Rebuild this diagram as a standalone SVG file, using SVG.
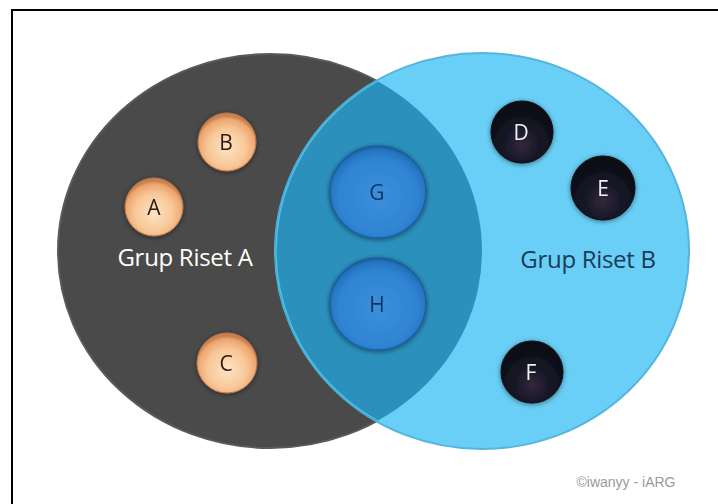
<svg xmlns="http://www.w3.org/2000/svg" width="718" height="504" viewBox="0 0 718 504">
<defs>
<radialGradient id="gOrange" cx="50%" cy="60%" r="55%">
<stop offset="0" stop-color="#FDE3C6"/>
<stop offset="0.6" stop-color="#F8C797"/>
<stop offset="0.9" stop-color="#EDA56F"/>
<stop offset="1" stop-color="#C98050"/>
</radialGradient>
<radialGradient id="gBlue" cx="50%" cy="55%" r="55%">
<stop offset="0" stop-color="#3A8FDB"/>
<stop offset="0.75" stop-color="#2F84D2"/>
<stop offset="0.92" stop-color="#2574C0"/>
<stop offset="1" stop-color="#1A5C9E"/>
</radialGradient>
<radialGradient id="gDark" cx="50%" cy="70%" r="55%">
<stop offset="0" stop-color="#33283C"/>
<stop offset="0.5" stop-color="#181828"/>
<stop offset="1" stop-color="#0C0E18"/>
</radialGradient>
<filter id="sh" x="-30%" y="-30%" width="160%" height="160%">
<feGaussianBlur in="SourceAlpha" stdDeviation="2.5"/>
<feOffset dx="0" dy="1" result="b"/>
<feFlood flood-color="#000" flood-opacity="0.5"/>
<feComposite in2="b" operator="in"/>
<feMerge><feMergeNode/><feMergeNode in="SourceGraphic"/></feMerge>
</filter>
<clipPath id="clipA"><ellipse cx="270" cy="251" rx="212" ry="197"/></clipPath>
<style>
.lbl{font-family:"Open Sans","Liberation Sans",sans-serif;font-size:24px;text-anchor:middle;letter-spacing:-0.3px}
.n{font-family:"Open Sans","Liberation Sans",sans-serif;font-size:21px;text-anchor:middle}
.orange{fill:url(#gOrange);stroke:#B87848;stroke-width:1}
.blue{fill:url(#gBlue);stroke:#1E5E9E;stroke-width:1.5}
.dark{fill:url(#gDark);stroke:#0A0A12;stroke-width:1}
</style>
</defs>
<rect x="0" y="0" width="718" height="504" fill="#fff"/>
<rect x="12" y="10" width="720" height="510" fill="none" stroke="#000" stroke-width="2"/>
<g id="setA">
<ellipse cx="270" cy="251" rx="212" ry="197" fill="#4A4A4A" stroke="#5A5A5A" stroke-width="2"/>
<text class="lbl" x="185" y="266" fill="#FFFFFF">Grup Riset A</text>
</g>
<g id="setB">
<ellipse cx="482" cy="251" rx="207" ry="198" fill="#69CFF6" stroke="#55B5DC" stroke-width="2"/>
<ellipse cx="482" cy="251" rx="207" ry="198" fill="#2B91BC" clip-path="url(#clipA)"/>
<ellipse cx="482" cy="251" rx="206" ry="197" fill="none" stroke="#4EC0E6" stroke-width="1.5" clip-path="url(#clipA)"/>
<text class="lbl" x="588" y="268" fill="#1A3A58">Grup Riset B</text>
</g>
<g id="connectors"></g>
<g id="nodeA" filter="url(#sh)"><circle cx="154" cy="207" r="29" class="orange"/><text class="n" x="154" y="215" fill="#2A1A10">A</text></g>
<g id="nodeB" filter="url(#sh)"><circle cx="227" cy="142" r="29" class="orange"/><text class="n" x="226" y="150" fill="#2A1A10">B</text></g>
<g id="nodeC" filter="url(#sh)"><circle cx="227" cy="363" r="30" class="orange"/><text class="n" x="226" y="371" fill="#2A1A10">C</text></g>
<g id="nodeG" filter="url(#sh)"><ellipse cx="378" cy="192" rx="48" ry="46" class="blue"/><text class="n" x="377" y="200" fill="#13325E">G</text></g>
<g id="nodeH" filter="url(#sh)"><ellipse cx="378" cy="304" rx="48" ry="46" class="blue"/><text class="n" x="377" y="312" fill="#13325E">H</text></g>
<g id="nodeD" filter="url(#sh)"><circle cx="522" cy="132" r="31" class="dark"/><text class="n" x="521" y="140" fill="#F0F0F0">D</text></g>
<g id="nodeE" filter="url(#sh)"><circle cx="603" cy="188" r="32" class="dark"/><text class="n" x="603" y="196" fill="#F0F0F0">E</text></g>
<g id="nodeF" filter="url(#sh)"><circle cx="532" cy="372" r="31" class="dark"/><text class="n" x="531" y="380" fill="#F0F0F0">F</text></g>
<text x="626" y="487" font-family="Liberation Sans,Arial,sans-serif" font-size="14" fill="#9A9A9A" text-anchor="middle">©iwanyy - iARG</text>
</svg>
